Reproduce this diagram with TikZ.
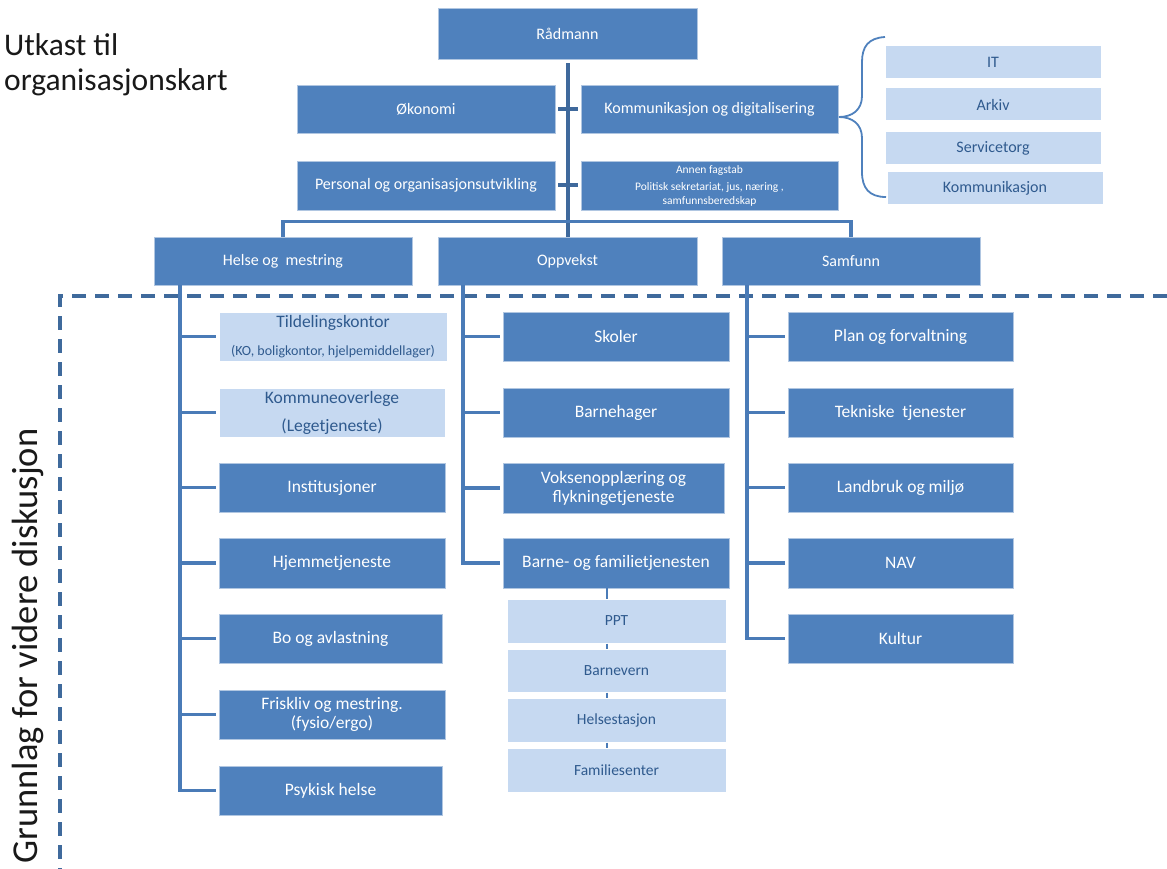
\documentclass[tikz,border=0pt]{standalone}
\usepackage{fontspec}
\setmainfont{Carlito}
\definecolor{dk}{HTML}{4F81BD}
\definecolor{lt}{HTML}{C6D9F1}
\definecolor{ln}{HTML}{4A7BB7}
\definecolor{dashc}{HTML}{3F6A9C}
\definecolor{lttext}{HTML}{2F5A8E}
\newcommand{\fsz}[2]{\fontsize{#1}{#2}\selectfont}
\newcommand{\bx}[7]{\node[#1, minimum width={(#4-#2)*1pt}, minimum height={(#5-#3)*1pt}] (#6) at ({(#2+#4)/2},{(#3+#5)/2}) {#7};}
\tikzset{
  dbox/.style={fill=dk, draw=white!55!dk, line width=0.8pt, text=white, inner sep=0pt, align=center, font=\fsz{17.5}{19}},
  tbox/.style={dbox, font=\fsz{16}{19}},
  smallbox/.style={dbox, font=\fsz{11.5}{13.5}},
  lbox/.style={fill=lt, draw=white, line width=1pt, text=lttext, inner sep=0pt, align=center, font=\fsz{17.5}{19}},
  sbox/.style={lbox, font=\fsz{16}{19}},
  subbox/.style={lbox, font=\fsz{15.5}{18}},
  conn/.style={draw=ln, line width=3.6pt},
  trunk/.style={draw=ln!85!black, line width=4pt},
  thinconn/.style={draw=ln, line width=1.8pt},
  brace/.style={draw=dk, line width=1.8pt},
  dline/.style={draw=dashc, line width=3.4pt, dash pattern=on 14pt off 9pt},
}
\begin{document}
\begin{tikzpicture}[x=1pt,y=-1pt]
\useasboundingbox (0,0) rectangle (1167,869);
% titles
\node[anchor=base west, inner sep=0pt, font=\fsz{31.5}{35}, text=black!90] (t1) at (4,56) {Utkast til};
\node[anchor=base west, inner sep=0pt, font=\fsz{31.5}{35}, text=black!90] (t2) at (4,91) {organisasjonskart};
\node[anchor=base, rotate=90, inner sep=0pt, font=\fsz{36.5}{40}, text=black!90] (gr) at (37,646) {Grunnlag for videre diskusjon};
% dashed frame
\coordinate (dr) at (1167,296);
\coordinate (dc) at (60,296);
\coordinate (db) at (60,869);
\draw[dline] (dr) -- (dc) -- (db);
% top
\bx{tbox}{438}{8}{697}{59}{rad}{Rådmann}
\bx{tbox}{297}{85}{555}{133}{oko}{Økonomi}
\bx{tbox}{581}{85}{838}{133}{kom}{Kommunikasjon og digitalisering}
\bx{tbox}{297}{161}{555}{210}{per}{Personal og organisasjonsutvikling}
\bx{smallbox}{581}{161}{838}{210}{ann}{Annen fagstab\\[4pt]Politisk sekretariat, jus, næring ,\\samfunnsberedskap}
\bx{sbox}{885}{46}{1101}{79}{it}{IT}
\bx{sbox}{885}{88}{1101}{121}{ark}{Arkiv}
\bx{sbox}{885}{132}{1101}{165}{ser}{Servicetorg}
\bx{sbox}{887}{172}{1103}{205}{kmk}{Kommunikasjon}
\bx{tbox}{154}{237}{412}{285}{hel}{Helse og~ mestring}
\bx{tbox}{438}{237}{697}{285}{opp}{Oppvekst}
\bx{tbox}{722}{237}{980}{285}{sam}{Samfunn}
% brace
\coordinate (btop) at (885,37);
\coordinate (bbot) at (886,197);
\coordinate (tip) at (839,117);
\draw[brace] (btop) .. controls (868,38) and (862,47) .. (862,62) -- (862,96)
  .. controls (862,110) and (852,117) .. (tip)
  .. controls (852,117) and (862,124) .. (862,138) -- (862,172)
  .. controls (862,188) and (869,197) .. (bbot);
% trunk
\draw[trunk] ([yshift=-4pt]rad.south) -- (opp.north);
\draw[trunk] ([xshift=3pt]oko.east) -- ([xshift=-3pt]kom.west);
\draw[trunk] ([xshift=3pt]per.east) -- ([xshift=-3pt]ann.west);
\draw[conn] (hel.north) -- ++(0,-15) -| (sam.north);
% columns
\bx{lbox}{219}{312}{447}{361}{til}{Tildelingskontor\\[9pt]{\fsz{14}{16}(KO, boligkontor, hjelpemiddellager)}}
\bx{lbox}{219}{388}{445}{437}{kov}{Kommuneoverlege\\[9pt](Legetjeneste)}
\bx{dbox}{219}{463}{445}{512}{ins}{Institusjoner}
\bx{dbox}{219}{538}{445}{588}{hje}{Hjemmetjeneste}
\bx{dbox}{219}{614}{442}{663}{bo}{Bo og avlastning}
\bx{dbox}{219}{690}{445}{739}{fri}{Friskliv og mestring.\\(fysio/ergo)}
\bx{dbox}{219}{766}{442}{815}{psy}{Psykisk helse}
\bx{dbox}{503}{312}{729}{361}{sko}{Skoler}
\bx{dbox}{503}{388}{729}{437}{bhg}{Barnehager}
\bx{dbox}{503}{463}{724}{513}{vok}{Voksenopplæring og\\flykningetjeneste}
\bx{dbox}{503}{538}{729}{588}{bft}{Barne- og familietjenesten}
\bx{subbox}{507}{599}{726}{643}{ppt}{PPT}
\bx{subbox}{507}{649}{726}{692}{bv}{Barnevern}
\bx{subbox}{507}{698}{726}{742}{hs}{Helsestasjon}
\bx{subbox}{507}{748}{726}{792}{fam}{Familiesenter}
\bx{dbox}{788}{312}{1013}{361}{pla}{Plan og forvaltning}
\bx{dbox}{788}{388}{1013}{437}{tek}{Tekniske~ tjenester}
\bx{dbox}{788}{463}{1013}{512}{lan}{Landbruk og miljø}
\bx{dbox}{788}{538}{1013}{588}{nav}{NAV}
\bx{dbox}{788}{614}{1013}{663}{kul}{Kultur}
% column stems
\coordinate (hs1) at (180,285);
\coordinate (os1) at (463,285);
\coordinate (ss1) at (747,285);
\coordinate (sub) at (607,590);
\draw[conn] (hs1) |- ([xshift=-3pt]psy.west);
\foreach \b in {til,kov,ins,hje,bo,fri} {\draw[conn] (hs1 |- \b.west) -- ([xshift=-3pt]\b.west);}
\draw[conn] (os1) |- ([xshift=-3pt]bft.west);
\foreach \b in {sko,bhg,vok} {\draw[conn] (os1 |- \b.west) -- ([xshift=-3pt]\b.west);}
\draw[conn] (ss1) |- ([xshift=-3pt]kul.west);
\foreach \b in {pla,tek,lan,nav} {\draw[conn] (ss1 |- \b.west) -- ([xshift=-3pt]\b.west);}
\draw[thinconn] (sub |- bft.south) -- (sub |- ppt.north);
\draw[thinconn] (sub |- ppt.south) -- (sub |- bv.north);
\draw[thinconn] (sub |- bv.south) -- (sub |- hs.north);
\draw[thinconn] (sub |- hs.south) -- (sub |- fam.north);
\end{tikzpicture}
\end{document}
